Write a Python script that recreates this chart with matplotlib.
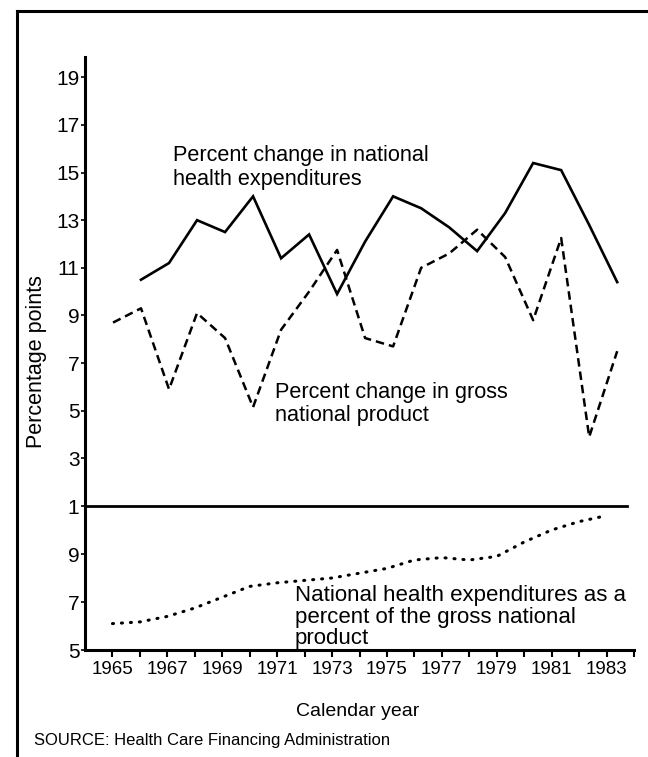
"""
Percent change in national health expenditures and GNP, 1965-1983,
with NHE as a percent of GNP in a lower panel.
"""

import numpy as np
import matplotlib
matplotlib.use("Agg")
import matplotlib.pyplot as plt

plt.rcParams["font.family"] = ["Liberation Sans", "DejaVu Sans"]

# ── data ────────────────────────────────────────────────────────────────────
years_nhe = [1966, 1967, 1968, 1969, 1970, 1971, 1972, 1973, 1974,
             1975, 1976, 1977, 1978, 1979, 1980, 1981, 1982, 1983]
nhe_change = [10.5, 11.2, 13.0, 12.5, 14.0, 11.4, 12.4, 9.9, 12.1,
              14.0, 13.5, 12.7, 11.7, 13.3, 15.4, 15.1, 12.8, 10.4]

years = list(range(1965, 1984))
gnp_change = [8.7, 9.3, 5.9, 9.1, 8.05, 5.15, 8.4, 10.0, 11.75, 8.05,
              7.7, 11.0, 11.6, 12.6, 11.45, 8.8, 12.25, 3.9, 7.5]
nhe_pct_gnp = [6.1, 6.17, 6.4, 6.75, 7.2, 7.65, 7.8, 7.9, 8.0, 8.2,
               8.4, 8.75, 8.85, 8.75, 8.9, 9.5, 10.0, 10.35, 10.6]

upper_ticks = [1, 3, 5, 7, 9, 11, 13, 15, 17, 19]
lower_ticks = [5, 7, 9]
year_labels = [1965, 1967, 1969, 1971, 1973, 1975, 1977, 1979, 1981, 1983]

FS = 15.6
XMIN, XMAX = 1964, 1983.6
DPI = 100

fig = plt.figure(figsize=(6.48, 7.57), dpi=DPI, facecolor="white")

left, width = 85 / 648, (634 - 85) / 648
ax_up = fig.add_axes([left, 251 / 757, width, 449 / 757])
ax_lo = fig.add_axes([left, 107 / 757, width, 144 / 757])
for ax in (ax_up, ax_lo):
    ax.patch.set_visible(False)

# ── upper panel ────────────────────────────────────────────────────────────
ax_up.plot(years_nhe, nhe_change, color="black", lw=1.9, solid_joinstyle="miter")
ax_up.plot(years, gnp_change, color="black", lw=1.8, dashes=(3.4, 2.0))
ax_up.set_xlim(XMIN, XMAX)
ax_up.set_ylim(1, 19.85)
ax_up.set_yticks(upper_ticks)
ax_up.set_xticks([])
for s in ("top", "right"):
    ax_up.spines[s].set_visible(False)
ax_up.spines["left"].set_linewidth(2.2)
ax_up.spines["bottom"].set_linewidth(2)
ax_up.spines["bottom"].set_bounds(XMIN, 1983.35)
ax_up.tick_params(axis="y", direction="out", length=3, width=1.2,
                  labelsize=15, pad=1)

ax_up.text(1967.14, 16.15, "Percent change in national\nhealth expenditures",
           fontsize=FS, va="top", ha="left", linespacing=1.2)
ax_up.text(1970.8, 6.2, "Percent change in gross\nnational product",
           fontsize=FS, va="top", ha="left", linespacing=1.1)

# ── lower panel ────────────────────────────────────────────────────────────
ax_lo.set_xlim(XMIN, XMAX)
ax_lo.set_ylim(5, 11)

# dotted line: pick the dot gap so a dot lands on both ends of the curve
DOT_LW = 2.2
DOT_LEN = 0.35
pts = ax_lo.transData.transform(np.column_stack([years, nhe_pct_gnp]))
path_len = np.sum(np.hypot(*np.diff(pts, axis=0).T)) * 72 / DPI
n_gaps = max(1, round(path_len / 6.5))
gap = path_len / n_gaps / DOT_LW - DOT_LEN
ax_lo.plot(years, nhe_pct_gnp, color="black", lw=DOT_LW,
           dashes=(DOT_LEN, gap), dash_capstyle="round")

ax_lo.set_yticks(lower_ticks)
ax_lo.set_xticks(years + [1984])
ax_lo.set_xticklabels([str(y) if y in year_labels else "" for y in years + [1984]])
for s in ("top", "right"):
    ax_lo.spines[s].set_visible(False)
ax_lo.spines["left"].set_linewidth(2.2)
ax_lo.spines["bottom"].set_linewidth(2.2)
ax_lo.tick_params(axis="y", direction="out", length=3, width=1.2,
                  labelsize=15, pad=1)
ax_lo.tick_params(axis="x", direction="out", length=5, width=1.5,
                  labelsize=13.5, pad=3)

ax_lo.text(1971.64, 7.7,
           "National health expenditures as a\npercent of the gross national\nproduct",
           fontsize=16, va="top", ha="left", linespacing=1.02)

# ── labels and frame ───────────────────────────────────────────────────────
fig.text(37 / 648, 1 - 362 / 757, "Percentage points", rotation=90,
         ha="center", va="center", fontsize=15.5)
fig.text(358 / 648, 1 - 712 / 757, "Calendar year", ha="center",
         va="center", fontsize=14)
fig.text(34 / 648, 1 - 741 / 757, "SOURCE: Health Care Financing Administration",
         ha="left", va="center", fontsize=12)

fig.add_artist(plt.Line2D([17 / 648, 17 / 648], [0, 1 - 11 / 757],
                          color="black", lw=2.2, transform=fig.transFigure))
fig.add_artist(plt.Line2D([17 / 648, 1], [1 - 11 / 757, 1 - 11 / 757],
                          color="black", lw=2.2, transform=fig.transFigure))

fig.savefig("out.png", dpi=DPI, facecolor="white")
